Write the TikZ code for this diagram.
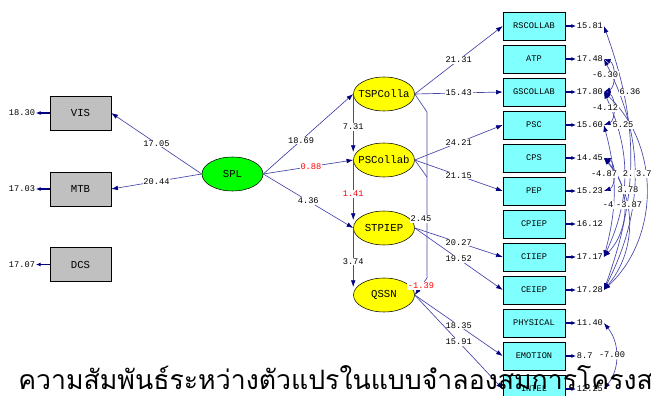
\documentclass[tikz,border=0pt]{standalone}
\usepackage{fontspec}
\setmonofont{Liberation Mono}
\newfontfamily\thaifont[Script=Thai]{Loma}
\usetikzlibrary{arrows.meta,shapes.geometric}
\definecolor{lisnavy}{RGB}{0,0,128}
\definecolor{lisline}{RGB}{70,70,170}
\definecolor{obscyan}{RGB}{128,255,255}
\definecolor{obsgray}{RGB}{192,192,192}
\definecolor{latgreen}{RGB}{0,255,0}
\definecolor{latyellow}{RGB}{255,255,0}
\definecolor{nsred}{RGB}{255,0,0}
\tikzset{
  grybox/.style={draw, fill=obsgray, minimum width=45.75pt, minimum height=25.5pt, inner sep=0pt, font=\fontsize{8}{9}\ttfamily},
  cynbox/.style={draw, fill=obscyan, minimum width=46.5pt, minimum height=21pt, inner sep=0pt, font=\fontsize{6.5}{7}\ttfamily},
  latent/.style={draw, ellipse, fill=latyellow, minimum width=45.75pt, minimum height=25.5pt, inner xsep=-3.5pt, inner ysep=0pt, font=\fontsize{8}{9}\ttfamily},
  errlbl/.style={inner sep=0.5pt, font=\fontsize{6.5}{7}\ttfamily},
  lbl/.style={fill=white, inner sep=0.6pt, font=\fontsize{6.5}{7}\ttfamily},
  nslbl/.style={lbl, text=nsred},
  pth/.style={draw=lisline, line width=0.5pt, -{Latex[length=5pt,width=3.5pt,color=lisnavy]}},
  errarr/.style={draw=lisnavy, line width=0.9pt, -{Latex[length=3.5pt,width=3pt]}},
  cov/.style={draw=lisline, line width=0.5pt, {Latex[length=5pt,width=3.5pt,color=lisnavy]}-{Latex[length=5pt,width=3.5pt,color=lisnavy]}},
}
\begin{document}
\begin{tikzpicture}[x=0.75pt,y=0.75pt,yscale=-1,xscale=1]
    \useasboundingbox (0,0) rectangle (651,396);
    %Shape: left observed boxes
    \node [grybox] (VIS) at (80.5,113) {VIS};
    \node [grybox] (MTB) at (80.5,189) {MTB};
    \node [grybox] (DCS) at (80.5,264.5) {DCS};
    % Text Node: left errors
    \node [errlbl] (ev) at (22,113) {18.30};
    \node [errlbl] (em) at (22,189) {17.03};
    \node [errlbl] (ed) at (22,264.5) {17.07};
    \draw [errarr] (VIS.west) -- (ev.east);
    \draw [errarr] (MTB.west) -- (em.east);
    \draw [errarr] (DCS.west) -- (ed.east);
    %Shape: latent ellipses
    \node [latent, fill=latgreen] (SPL) at (232.5,174) {SPL};
    \node [latent] (TSPC) at (384,94) {TSPColla};
    \node [latent] (PSCO) at (384,160) {PSCollab};
    \node [latent] (STP) at (384,228) {STPIEP};
    \node [latent] (QSSN) at (384,295) {QSSN};
    %Shape: right observed boxes
    \node [cynbox] (RSC) at (534,26) {RSCOLLAB};
    \node [cynbox] (ATP) at (534,59) {ATP};
    \node [cynbox] (GSC) at (534,92) {GSCOLLAB};
    \node [cynbox] (PSC) at (534,125) {PSC};
    \node [cynbox] (CPS) at (534,158) {CPS};
    \node [cynbox] (PEP) at (534,191) {PEP};
    \node [cynbox] (CPI) at (534,224) {CPIEP};
    \node [cynbox] (CII) at (534,257) {CIIEP};
    \node [cynbox] (CEI) at (534,290) {CEIEP};
    \node [cynbox] (PHY) at (534,323) {PHYSICAL};
    \node [cynbox] (EMO) at (534,356) {EMOTION};
    \node [cynbox] (INT) at (534,389) {INTEL};
    % Text Node: right errors
    \node [errlbl, anchor=west] (e1) at (576,26) {15.81};
    \node [errlbl, anchor=west] (e2) at (576,59) {17.48};
    \node [errlbl, anchor=west] (e3) at (576,92) {17.80};
    \node [errlbl, anchor=west] (e4) at (576,125) {15.60};
    \node [errlbl, anchor=west] (e5) at (576,158) {14.45};
    \node [errlbl, anchor=west] (e6) at (576,191) {15.23};
    \node [errlbl, anchor=west] (e7) at (576,224) {16.12};
    \node [errlbl, anchor=west] (e8) at (576,257) {17.17};
    \node [errlbl, anchor=west] (e9) at (576,290) {17.28};
    \node [errlbl, anchor=west] (e10) at (576,323) {11.40};
    \node [errlbl, anchor=west] (e11) at (576,356) {8.7};
    \node [errlbl, anchor=west] (e12) at (576,389) {12.25};
    \foreach \b/\e in {RSC/e1,ATP/e2,GSC/e3,PSC/e4,CPS/e5,PEP/e6,CPI/e7,CII/e8,CEI/e9,PHY/e10,EMO/e11,INT/e12}
      \draw [errarr] (\b.east) -- (\e.west);
    % SPL paths
    \draw [pth] (SPL.west) -- node [lbl] {17.05} (VIS.east);
    \draw [pth] (SPL.west) -- node [lbl] {20.44} (MTB.east);
    \draw [pth] (SPL.east) -- node [lbl, pos=0.42] {18.69} (TSPC.west);
    \draw [pth] (SPL.east) -- node [nslbl, pos=0.53] {0.88} (PSCO.west);
    \draw [pth] (SPL.east) -- node [lbl] {4.36} (STP.west);
    % latent chain
    \draw [pth, shorten >=6pt] (TSPC.west) -- node [lbl] {7.31} (PSCO.west);
    \draw [pth, shorten >=6pt] (PSCO.west) -- node [nslbl] {1.41} (STP.west);
    \draw [pth, shorten >=6pt] (STP.west) -- node [lbl] {3.74} (QSSN.west);
    \coordinate (qa) at (427,112);
    \coordinate (qb) at (427,278);
    \coordinate (qc) at (427,177);
    \draw [pth] (TSPC.east) -- (qa) -- (qb) -- (QSSN.east);
    \draw [draw=lisline, line width=0.5pt] (PSCO.east) -- (qc);
    \node [lbl] (l245) at (421,219) {2.45};
    \node [nslbl] (l139) at (421,286) {-1.39};
    % loadings
    \draw [pth] (TSPC.east) -- node [lbl] {21.31} (RSC.west);
    \draw [pth] (TSPC.east) -- node [lbl] {15.43} (GSC.west);
    \draw [pth] (PSCO.east) -- node [lbl] {24.21} (PSC.west);
    \draw [pth] (PSCO.east) -- node [lbl] {21.15} (PEP.west);
    \draw [pth] (STP.east) -- node [lbl] {20.27} (CII.west);
    \draw [pth] (STP.east) -- node [lbl] {19.52} (CEI.west);
    \draw [pth] (QSSN.east) -- node [lbl] {18.35} (EMO.west);
    \draw [pth] (QSSN.east) -- node [lbl] {15.91} (INT.west);
    % error covariances
    \draw [cov] (e1.east) to [bend right=20] (e9.east);
    \draw [cov] (e2.east) to [bend right=70] (e3.east);
    \draw [cov] (e3.east) to [bend right=70] (e4.east);
    \draw [cov] (e3.east) to [bend right=25] (e8.east);
    \draw [cov] (e5.east) to [bend right=70] (e6.east);
    \draw [cov] (e2.east) to [bend right=27] (e9.east);
    \draw [cov] (e3.east) to [bend right=47] (e9.east);
    \draw [cov] (e5.east) to [bend right=40] (e9.east);
    \draw [cov] (e4.east) to [bend right=15] (e8.east);
    \draw [cov] (e5.east) to [bend right=44] (e8.east);
    \draw [cov] (e10.east) to [bend right=39] (e12.east);
    \node [lbl] (c636) at (630,92) {6.36};
    \node [lbl] (c630) at (605,75) {-6.30};
    \node [lbl] (c412) at (605,108) {-4.12};
    \node [lbl] (c525) at (623,125) {5.25};
    \node [lbl] (c487) at (604,174) {-4.87};
    \node [lbl] (c2x) at (628,174) {2.};
    \node [lbl, anchor=west] (c372) at (635,174) {3.72};
    \node [lbl] (c378) at (628,190) {3.78};
    \node [lbl] (c4x) at (608,205) {-4};
    \node [lbl, anchor=west] (c387) at (615,205) {-3.87};
    \node [lbl] (c700) at (612,355) {-7.00};
    % Text Node: title
    \node [anchor=base west, inner sep=0pt] (title) at (18,389) {\thaifont\fontsize{20}{24}\selectfont ความสัมพันธ์ระหว่างตัวแปรในแบบจำลองสมการโครงส};
\end{tikzpicture}
\end{document}
